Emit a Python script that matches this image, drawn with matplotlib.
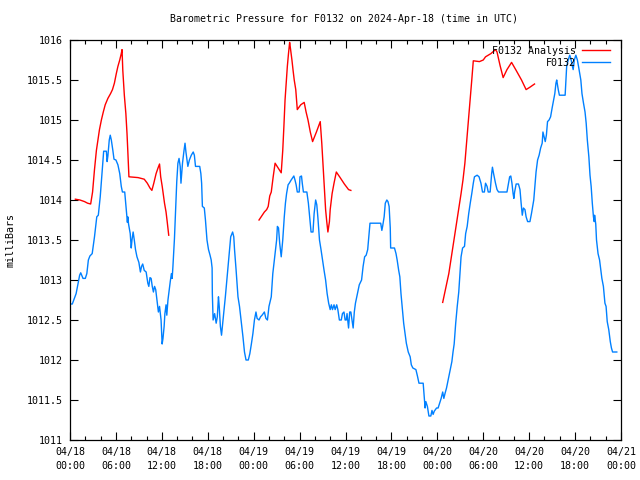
import numpy as np
import matplotlib
matplotlib.use("Agg")
import matplotlib.pyplot as plt
from matplotlib.ticker import MultipleLocator

# hours since 2024-04-18 00:00 UTC, pressure in mb
obs_hours = [0.0, 0.3, 0.8, 1.26, 1.4, 1.7, 2.0, 2.2, 2.4, 2.6, 2.9, 3.2, 3.5, 3.7, 3.95, 4.1, 4.3, 4.4,
             4.75, 4.85, 4.95, 5.13, 5.26, 5.4, 5.6, 5.75, 6.0, 6.26, 6.5, 6.7, 6.85, 7.15, 7.4, 7.5,
             7.55, 7.65, 7.87, 8.0, 8.1, 8.25, 8.4, 8.56, 8.75, 9.0, 9.2, 9.35, 9.5, 9.7, 9.95, 10.17,
             10.3, 10.45, 10.6, 10.75, 10.9, 11.05, 11.2, 11.47, 11.55, 11.7, 11.9, 12.04, 12.15, 12.3,
             12.4, 12.55, 12.65, 12.8, 13.1, 13.25, 13.35, 13.45, 13.65, 13.8, 13.95, 14.1, 14.25, 14.4,
             14.5, 14.7, 14.9, 15.03, 15.15, 15.4, 15.6, 15.85, 16.1, 16.25, 16.4, 16.95, 17.1, 17.2,
             17.3, 17.55, 17.7, 17.9, 18.1, 18.3, 18.45, 18.57, 18.6, 18.7, 18.9, 19.1, 19.25, 19.4,
             19.5, 19.65, 19.8, 19.95, 20.1, 20.3, 20.5, 20.65, 20.8, 21.0, 21.25, 21.4, 21.5, 21.7,
             21.95, 22.15, 22.4, 22.6, 22.8, 23.0, 23.3, 23.5, 23.7, 23.9, 24.1, 24.3, 24.45, 24.7,
             24.9, 25.1, 25.4, 25.6, 25.8, 26.0, 26.3, 26.5, 26.8, 27.0, 27.1, 27.25, 27.4, 27.5, 27.6,
             27.8, 28.0, 28.15, 28.3, 28.5, 28.65, 28.9, 29.25, 29.4, 29.55, 29.7, 29.95, 30.05, 30.25,
             30.35, 30.5, 30.95, 31.15, 31.3, 31.5, 31.75, 31.9, 32.1, 32.25, 32.4, 32.6, 32.8, 33.0,
             33.2, 33.4, 33.6, 33.8, 34.0, 34.15, 34.3, 34.5, 34.65, 34.85, 35.0, 35.2, 35.45, 35.6,
             35.8, 35.95, 36.1, 36.2, 36.4, 36.55, 36.7, 36.85, 37.0, 37.15, 37.3, 37.5, 37.8, 38.1,
             38.3, 38.5, 38.7, 38.9, 39.05, 39.2, 40.6, 40.75, 40.85, 41.05, 41.2, 41.4, 41.55, 41.7,
             41.85, 41.9, 42.4, 42.6, 42.75, 42.95, 43.1, 43.25, 43.4, 43.6, 43.75, 43.95, 44.2, 44.45,
             44.6, 44.8, 45.2, 45.4, 45.6, 46.15, 46.3, 46.4, 46.5, 46.7, 46.9, 47.15, 47.3, 47.45,
             47.6, 47.9, 48.1, 48.3, 48.5, 48.7, 48.85, 49.0, 49.2, 49.35, 49.5, 49.7, 49.9, 50.05,
             50.2, 50.4, 50.6, 50.8, 50.95, 51.1, 51.3, 51.55, 51.7, 51.9, 52.1, 52.3, 52.5, 52.7,
             52.85, 53.2, 53.45, 53.7, 53.9, 54.15, 54.3, 54.5, 54.65, 54.9, 55.1, 55.2, 55.35, 55.6,
             55.8, 56.0, 57.1, 57.3, 57.45, 57.6, 57.75, 57.9, 58.0, 58.1, 58.3, 58.6, 58.8, 58.95,
             59.1, 59.25, 59.45, 59.6, 59.8, 60.1, 60.3, 60.6, 60.75, 60.9, 61.1, 61.3, 61.5, 61.7,
             61.8, 61.9, 62.1, 62.25, 62.4, 62.6, 62.8, 63.0, 63.2, 63.35, 63.5, 63.6, 63.8, 63.95,
             64.7, 64.8, 64.9, 65.1, 65.3, 65.45, 65.6, 65.75, 65.9, 66.1, 66.3, 66.45, 66.75, 66.9,
             67.1, 67.3, 67.45, 67.6, 67.8, 67.95, 68.1, 68.25, 68.4, 68.5, 68.55, 68.7, 68.8, 69.0,
             69.2, 69.35, 69.5, 69.7, 69.9, 70.05, 70.2, 70.4, 70.6, 70.75, 70.9, 71.45]
obs_mb = [1012.70, 1012.70, 1012.83, 1013.06, 1013.09, 1013.02, 1013.02, 1013.08, 1013.25, 1013.30,
          1013.33, 1013.54, 1013.79, 1013.81, 1014.04, 1014.23, 1014.50, 1014.61, 1014.61, 1014.48,
          1014.55, 1014.75, 1014.81, 1014.75, 1014.62, 1014.51, 1014.50, 1014.44, 1014.33, 1014.17,
          1014.10, 1014.10, 1013.83, 1013.72, 1013.79, 1013.70, 1013.58, 1013.40, 1013.50, 1013.60,
          1013.50, 1013.38, 1013.29, 1013.22, 1013.10, 1013.17, 1013.20, 1013.12, 1013.10, 1012.96,
          1012.92, 1013.03, 1013.02, 1012.92, 1012.85, 1012.92, 1012.88, 1012.67, 1012.60, 1012.67,
          1012.50, 1012.20, 1012.27, 1012.42, 1012.58, 1012.69, 1012.56, 1012.75, 1012.98, 1013.08,
          1013.02, 1013.17, 1013.52, 1013.87, 1014.23, 1014.46, 1014.52, 1014.42, 1014.21, 1014.46,
          1014.62, 1014.71, 1014.60, 1014.42, 1014.50, 1014.56, 1014.60, 1014.56, 1014.42, 1014.42,
          1014.33, 1014.21, 1013.92, 1013.90, 1013.75, 1013.50, 1013.38, 1013.31, 1013.25, 1013.15,
          1012.83, 1012.50, 1012.58, 1012.46, 1012.54, 1012.79, 1012.67, 1012.42, 1012.31, 1012.46,
          1012.60, 1012.79, 1013.00, 1013.17, 1013.33, 1013.54, 1013.60, 1013.54, 1013.38, 1013.13,
          1012.79, 1012.67, 1012.46, 1012.29, 1012.10, 1012.00, 1012.00, 1012.08, 1012.20, 1012.33,
          1012.50, 1012.60, 1012.52, 1012.50, 1012.54, 1012.56, 1012.60, 1012.52, 1012.50, 1012.67,
          1012.79, 1013.08, 1013.33, 1013.50, 1013.67, 1013.65, 1013.46, 1013.38, 1013.29, 1013.50,
          1013.79, 1013.96, 1014.08, 1014.19, 1014.21, 1014.25, 1014.30, 1014.25, 1014.19, 1014.10,
          1014.10, 1014.29, 1014.30, 1014.21, 1014.10, 1014.10, 1013.96, 1013.81, 1013.60, 1013.60,
          1013.83, 1014.00, 1013.94, 1013.77, 1013.50, 1013.38, 1013.25, 1013.12, 1013.00, 1012.83,
          1012.71, 1012.63, 1012.69, 1012.63, 1012.69, 1012.63, 1012.69, 1012.63, 1012.50, 1012.50,
          1012.58, 1012.60, 1012.50, 1012.50, 1012.58, 1012.40, 1012.60, 1012.60, 1012.50, 1012.40,
          1012.60, 1012.71, 1012.80, 1012.94, 1013.00, 1013.17, 1013.29, 1013.31, 1013.38, 1013.54,
          1013.71, 1013.71, 1013.62, 1013.67, 1013.79, 1013.96, 1014.00, 1013.98, 1013.92, 1013.65,
          1013.40, 1013.40, 1013.33, 1013.25, 1013.12, 1013.04, 1012.83, 1012.67, 1012.46, 1012.35,
          1012.21, 1012.10, 1012.04, 1011.94, 1011.90, 1011.88, 1011.80, 1011.71, 1011.71, 1011.52,
          1011.40, 1011.48, 1011.42, 1011.30, 1011.30, 1011.37, 1011.32, 1011.36, 1011.40, 1011.40,
          1011.46, 1011.52, 1011.60, 1011.52, 1011.58, 1011.65, 1011.72, 1011.79, 1011.88, 1011.98,
          1012.10, 1012.20, 1012.46, 1012.67, 1012.85, 1013.08, 1013.29, 1013.40, 1013.42, 1013.58,
          1013.67, 1013.83, 1013.96, 1014.08, 1014.21, 1014.29, 1014.31, 1014.29, 1014.21, 1014.10,
          1014.10, 1014.21, 1014.17, 1014.10, 1014.10, 1014.33, 1014.41, 1014.33, 1014.21, 1014.13,
          1014.10, 1014.10, 1014.21, 1014.29, 1014.30, 1014.21, 1014.08, 1014.02, 1014.10, 1014.20,
          1014.20, 1014.13, 1013.96, 1013.81, 1013.90, 1013.88, 1013.79, 1013.73, 1013.73, 1013.83,
          1014.00, 1014.17, 1014.35, 1014.50, 1014.56, 1014.65, 1014.71, 1014.85, 1014.81, 1014.73,
          1014.81, 1014.98, 1015.00, 1015.04, 1015.15, 1015.25, 1015.33, 1015.46, 1015.50, 1015.38,
          1015.31, 1015.31, 1015.50, 1015.67, 1015.75, 1015.81, 1015.77, 1015.69, 1015.63, 1015.75,
          1015.81, 1015.75, 1015.67, 1015.50, 1015.33, 1015.21, 1015.10, 1014.96, 1014.75, 1014.54,
          1014.31, 1014.17, 1013.96, 1013.79, 1013.73, 1013.81, 1013.70, 1013.50, 1013.33, 1013.25,
          1013.13, 1013.02, 1012.92, 1012.71, 1012.67, 1012.48, 1012.38, 1012.23, 1012.15, 1012.10,
          1012.10]

# analysis series, NaN = gap
ana_hours = [0.7, 1.3, 1.9, 2.3, 2.7, 2.95, 3.2, 3.45, 3.65, 3.85, 4.1, 4.35, 4.6, 4.95, 5.3, 5.55,
             5.8, 6.05, 6.26, 6.5, 6.7, 6.8, 6.9, 7.1, 7.3, 7.45, 7.55, 7.7, 8.9, 9.7, 10.1, 10.45,
             10.7, 10.95, 11.25, 11.5, 11.7, 11.85, 12.05, 12.35, 12.55, 12.7, 12.9, 18.0,
             24.7, 25.05, 25.4, 25.7, 25.9, 26.1, 26.3, 26.55, 26.8, 27.2, 27.6, 27.8, 27.95, 28.1,
             28.25, 28.4, 28.55, 28.7, 28.8, 29.0, 29.15, 29.3, 29.5, 29.7, 30.15, 30.6, 30.85, 31.1,
             31.4, 31.7, 32.2, 32.7, 32.9, 33.1, 33.25, 33.4, 33.55, 33.7, 33.9, 34.0, 34.25, 34.5,
             34.8, 35.3, 35.85, 36.4, 36.7, 42.0,
             48.7, 49.1, 49.5, 49.9, 50.3, 50.7, 51.1, 51.35, 51.6, 51.85, 52.1, 52.3, 52.5, 52.7,
             53.5, 54.0, 54.3, 55.0, 55.6, 55.8, 56.2, 56.6, 57.1, 57.7, 58.3, 59.0, 59.6, 60.1, 60.7]
ana_mb = [1014.01, 1014.00, 1013.98, 1013.96, 1013.95, 1014.10, 1014.38, 1014.62, 1014.75, 1014.88,
          1015.00, 1015.10, 1015.19, 1015.27, 1015.33, 1015.38, 1015.46, 1015.58, 1015.67, 1015.75,
          1015.83, 1015.88, 1015.62, 1015.31, 1015.08, 1014.83, 1014.62, 1014.29, 1014.28, 1014.26,
          1014.21, 1014.15, 1014.12, 1014.21, 1014.33, 1014.40, 1014.45, 1014.29, 1014.17, 1013.96,
          1013.85, 1013.73, 1013.56, np.nan,
          1013.75, 1013.80, 1013.85, 1013.88, 1013.92, 1014.05, 1014.10, 1014.29, 1014.46, 1014.40,
          1014.34, 1014.62, 1014.92, 1015.25, 1015.46, 1015.67, 1015.83, 1015.97, 1015.90, 1015.75,
          1015.62, 1015.50, 1015.38, 1015.13, 1015.19, 1015.22, 1015.10, 1015.00, 1014.85, 1014.73,
          1014.85, 1014.98, 1014.71, 1014.38, 1014.13, 1013.88, 1013.73, 1013.60, 1013.73, 1013.88,
          1014.08, 1014.21, 1014.35, 1014.28, 1014.20, 1014.13, 1014.12, np.nan,
          1012.72, 1012.90, 1013.08, 1013.33, 1013.58, 1013.83, 1014.08, 1014.25, 1014.46, 1014.75,
          1015.04, 1015.27, 1015.50, 1015.74, 1015.73, 1015.75, 1015.79, 1015.83, 1015.88, 1015.85,
          1015.68, 1015.53, 1015.63, 1015.72, 1015.62, 1015.50, 1015.38, 1015.41, 1015.45]

tick_hours = list(range(0, 73, 6))
tick_labels = ["04/%02d\n%02d:00" % (18 + h // 24, h % 24) for h in tick_hours]

plt.rcParams['font.family'] = 'DejaVu Sans Mono'
plt.rcParams['font.size'] = 7.2

fig = plt.figure(figsize=(6.4, 4.8), dpi=100)
ax = fig.add_axes([70/640, 40/480, 551/640, 400/480])

ax.plot(ana_hours, ana_mb, color='#ff0000', lw=1.0, label='F0132 Analysis')
ax.plot(obs_hours, obs_mb, color='#0080ff', lw=1.0, label='F0132')

ax.set_xlim(0, 72)
ax.set_ylim(1011, 1016)
ax.set_xticks(tick_hours)
ax.set_xticklabels(tick_labels, linespacing=1.45)
ax.xaxis.set_minor_locator(MultipleLocator(2))
ax.yaxis.set_major_locator(MultipleLocator(0.5))
ax.yaxis.set_major_formatter(plt.FuncFormatter(lambda v, p: ('%g' % v)))
ax.tick_params(which='both', direction='in', top=True, right=True, width=0.8, labelsize=7.2)
ax.tick_params(which='major', length=6, pad=5)
ax.tick_params(which='minor', length=3)
for s in ax.spines.values():
    s.set_linewidth(0.9)

ax.legend(loc='upper right', bbox_to_anchor=(0.98, 0.985), frameon=False, markerfirst=False,
          handlelength=2.8, handletextpad=0.6, labelspacing=0.2, borderpad=0, borderaxespad=0,
          fontsize=7.2)

fig.text(0.538, 1 - 19/480, 'Barometric Pressure for F0132 on 2024-Apr-18 (time in UTC)',
         ha='center', va='center', fontsize=7.1)
fig.text(11/640, 0.5, 'milliBars', rotation=90, ha='center', va='center', fontsize=7.2)

fig.savefig('out.png', dpi=100)
